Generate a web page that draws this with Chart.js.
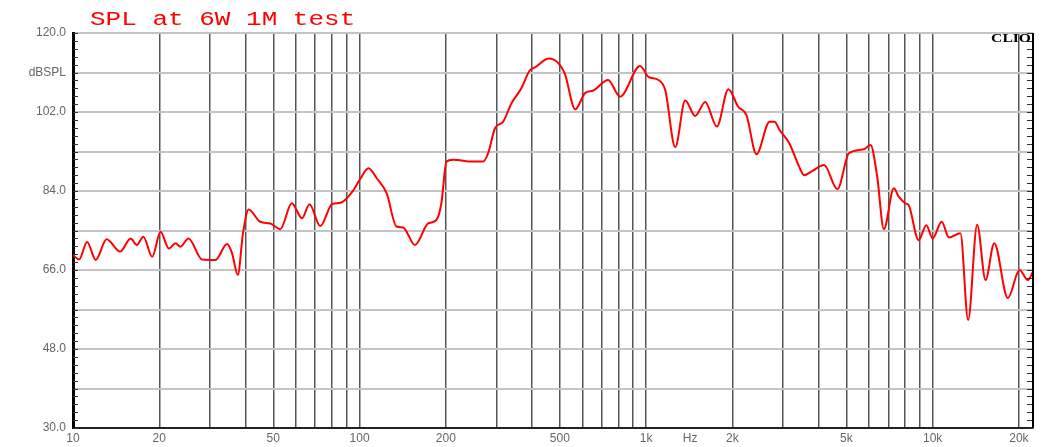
<!DOCTYPE html>
<html>
<head>
<meta charset="utf-8">
<script src="https://cdn.jsdelivr.net/npm/chart.js@4.4.0/dist/chart.umd.min.js"></script>
<style>
body{margin:0;background:#fff;}
#wrap{width:1047px;height:447px;position:relative;}
</style>
</head>
<body>
<div id="wrap"><canvas id="body-chart-spl"></canvas></div>
<script>
var freq = [10, 10.5, 11.2, 12.0, 13.1, 14.6, 15.9, 16.7, 17.6, 18.9, 20.2, 21.6, 22.8, 23.7, 25.3,
  28.2, 31.4, 34.5, 35.9, 37.6, 39.2, 41.0, 45.0, 48.8, 52.9, 58.0, 63.0, 66.9, 72.9, 80.2,
  85.8, 94.2, 100.6, 107.4, 114.8, 124.3, 134.6, 141.9, 156, 173.5, 185.4, 193, 201, 212,
  249, 270, 281, 297, 317, 339, 367, 392, 410, 458, 493, 520, 566, 612, 654, 737, 811, 953,
  1019, 1104, 1166, 1264, 1369, 1484, 1608, 1766, 1937, 2096, 2240, 2427, 2697, 2807, 2922,
  3160, 3424, 3563, 3807, 4180, 4651, 5104, 5755, 6072, 6404, 6757, 7322, 7614, 8035, 8244,
  8936, 9506, 9996, 10754, 11400, 12500, 13300, 14300, 15300, 16400, 18300, 20100, 21500, 22400];
var spl = [69.4, 68.4, 72.4, 68.3, 73.0, 70.2, 73.2, 71.7, 73.6, 69.0, 74.7, 70.9, 72.1, 71.3, 73.2,
  68.4, 68.3, 71.9, 69.8, 64.9, 74.4, 79.8, 77.0, 76.6, 75.3, 81.2, 77.8, 81.0, 76.0, 81.0,
  81.3, 83.8, 86.8, 89.2, 86.9, 83.5, 75.9, 75.7, 71.7, 76.6, 77.4, 81.2, 90.7, 91.1,
  90.7, 90.7, 92.6, 98.3, 99.8, 104.0, 107.4, 111.4, 112.2, 114.2, 113.2, 110.8, 102.6, 106.3, 106.9, 109.3, 105.5, 112.5,
  110.0, 109.3, 107.0, 94.0, 104.6, 101.1, 104.3, 98.7, 107.2, 103.2, 101.3, 92.4, 99.8, 99.8, 97.9,
  94.9, 89.5, 87.6, 88.6, 89.9, 84.4, 92.6, 93.5, 94.5, 87.3, 75.3, 84.6, 82.7, 81.2, 80.8,
  72.8, 76.2, 73.2, 77.0, 73.4, 74.4, 54.6, 76.3, 63.7, 72.1, 59.6, 66.0, 63.7, 65.6];

var yTicks = [30, 39, 48, 57, 66, 75, 84, 93, 102, 111, 120];
var yLabels = {120: '120.0', 111: 'dBSPL', 102: '102.0', 84: '84.0', 66: '66.0', 48: '48.0', 30: '30.0'};
var xTicks = [10, 20, 30, 40, 50, 60, 70, 80, 90, 100, 200, 300, 400, 500, 600, 700, 800, 900,
  1000, 1424, 2000, 3000, 4000, 5000, 6000, 7000, 8000, 9000, 10000, 20000];
var xLabels = {10: '10', 20: '20', 50: '50', 100: '100', 200: '200', 500: '500', 1000: '1k',
  1424: 'Hz', 2000: '2k', 5000: '5k', 10000: '10k', 20000: '20k'};

var points = freq.map(function(f, i){ return {x: f, y: spl[i]}; });

var extras = {
  id: 'extras',
  afterDraw: function(chart){
    var ctx = chart.ctx, a = chart.chartArea, sy = chart.scales.y;
    ctx.save();
    // small ticks along both side borders
    ctx.strokeStyle = '#333';
    ctx.lineWidth = 1;
    ctx.beginPath();
    for (var i = 0; i <= 50; i++) {
      var p = Math.round(sy.getPixelForValue(30 + i * 1.8)) + 0.5;
      ctx.moveTo(a.left, p); ctx.lineTo(a.left + 5, p);
      ctx.moveTo(a.right - 6, p); ctx.lineTo(a.right, p);
    }
    ctx.stroke();
    // right border
    ctx.strokeStyle = '#000';
    ctx.lineWidth = 2;
    ctx.beginPath();
    ctx.moveTo(a.right, a.top); ctx.lineTo(a.right, a.bottom);
    ctx.stroke();

    // title
    ctx.fillStyle = '#ff0000';
    ctx.font = '20px "Liberation Mono", monospace';
    ctx.textBaseline = 'alphabetic';
    ctx.translate(90, 25);
    ctx.scale(1.3, 1);
    ctx.fillText('SPL at 6W 1M test', 0, 0);
    ctx.restore();

    ctx.save();
    ctx.fillStyle = '#000';
    ctx.font = 'bold 12px "Liberation Serif", serif';
    ctx.textAlign = 'right';
    ctx.translate(a.right - 2, a.top + 9);
    ctx.scale(1.3, 1);
    ctx.fillText('CLIO', 0, 0);
    ctx.restore();
  }
};

var chart_spl = new Chart(document.getElementById('body-chart-spl'), {
  type: 'line',
  data: {
    datasets: [
      {
        data: points,
        borderColor: '#ff0000',
        borderWidth: 2,
        pointRadius: 0,
        cubicInterpolationMode: 'monotone',
        fill: false
      }
    ]
  },
  options: {
    responsive: true,
    maintainAspectRatio: false,
    animation: false,
    layout: { padding: { top: 33, right: 14, left: 0, bottom: 0 } },
    plugins: { legend: { display: false }, tooltip: { enabled: false } },
    scales: {
      x: {
        type: 'logarithmic',
        min: 10,
        max: 22400,
        afterBuildTicks: function(s){ s.ticks = xTicks.map(function(v){ return {value: v}; }); },
        afterFit: function(s){ s.height = 19; },
        ticks: {
          autoSkip: false,
          maxRotation: 0,
          padding: 3,
          color: '#666',
          font: { family: '"Liberation Sans", Arial', size: 12 },
          callback: function(v){ return xLabels[v] || ''; }
        },
        grid: {
          drawTicks: false,
          lineWidth: 1.5,
          color: function(c){ return c.tick && c.tick.value === 1424 ? 'rgba(0,0,0,0)' : '#555'; }
        },
        border: { color: '#222', width: 2 }
      },
      y: {
        min: 30,
        max: 120,
        afterBuildTicks: function(s){ s.ticks = yTicks.map(function(v){ return {value: v}; }); },
        afterFit: function(s){ s.width = 73; },
        ticks: {
          padding: 7,
          color: '#666',
          font: { family: '"Liberation Sans", Arial', size: 12 },
          callback: function(v){ return yLabels[v] || ''; }
        },
        grid: { drawTicks: false, lineWidth: 2, color: '#c4c4c4' },
        border: { color: '#000', width: 3 }
      }
    }
  },
  plugins: [extras]
});
</script>
</body>
</html>
